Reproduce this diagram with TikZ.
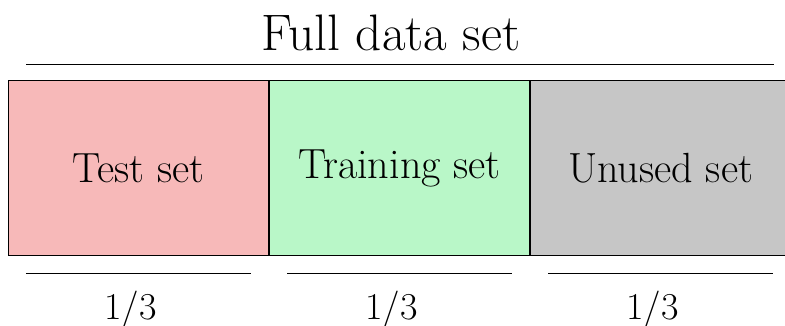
\documentclass[tikz,border=0pt]{standalone}
\usetikzlibrary{positioning}
\definecolor{testColor}{RGB}{247,185,185}
\definecolor{trainColor}{RGB}{185,247,200}
\definecolor{unusedColor}{RGB}{198,198,198}

\begin{document}
\begin{tikzpicture}[%%
  x=0.025cm,y=-0.025cm,
  lineStyle/.style={-,line width=0.7pt},%%
  boxStyle/.style={draw=black,line width=0.7pt,inner sep=0pt,
    minimum width=6.5cm,minimum height=4.35cm,
    font=\fontsize{30}{34}\selectfont},%%
  titleStyle/.style={inner sep=0pt,font=\fontsize{36.5}{40}\selectfont},%%
  fracStyle/.style={inner sep=0pt,font=\fontsize{27}{30}\selectfont}
]
%%
\useasboundingbox (0,0) rectangle (785,325);
%%
%% The three parts of the data set.
\node[boxStyle,fill=testColor] (test) at (138.5,168) {Test set};
\node[boxStyle,fill=trainColor,right=0pt of test] (train) {Training set};
\node[boxStyle,fill=unusedColor,right=0pt of train] (unused) {Unused set};
%%
%% The whole set, above.
\coordinate (fullL) at (26,64);
\coordinate (fullR) at (774,64);
\draw[lineStyle] (fullL) -- (fullR);
\node[titleStyle] (full) at (391,33) {Full data set};
%%
%% A third below each part.
\foreach \part in {test,train,unused}{%%
  \coordinate (\part L) at ([xshift=0.45cm,yshift=-0.45cm]\part.south west);
  \coordinate (\part R) at ([xshift=-0.45cm,yshift=-0.45cm]\part.south east);
  \draw[lineStyle] (\part L) -- (\part R);
  \node[fracStyle,below=0.42cm of \part L-|\part.south,xshift=-0.2cm]
    (\part Frac) {1/3};
}
\end{tikzpicture}
\end{document}
